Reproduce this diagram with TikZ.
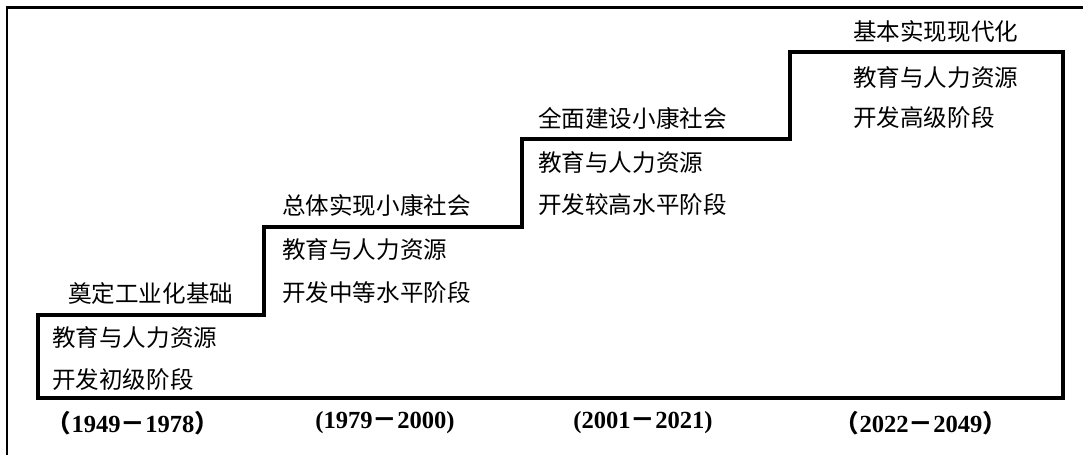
\documentclass[tikz,border=0pt]{standalone}
\usepackage{fontspec}
\setmainfont{Liberation Serif}
\newfontfamily\cjk{Noto Sans CJK SC}

\begin{document}
\begin{tikzpicture}[x=0.02cm,y=0.02cm,
		stage/.style={anchor=west,inner sep=0pt,font=\cjk\fontsize{13.4pt}{16pt}\selectfont},
		period/.style={inner sep=0pt,font=\bfseries\fontsize{14pt}{16pt}\selectfont}]
		\useasboundingbox (0,0) rectangle (1083,455);
		\draw[line width=1.7pt] (7,0) -- (7,447) -- (1083,447);
		\coordinate (A) at (38,57);
		\coordinate (B) at (1063,57);
		\draw[line width=2.8pt,line join=miter] (A) -- (38,140) -- (264,140) -- (264,228) -- (522,228) -- (522,316) -- (790,316) -- (790,403) -- (1063,403) -- (B) -- cycle;
		\node[stage] (g1) at (68,161) {奠定工业化基础};
		\node[stage] (a1) at (52,117) {教育与人力资源};
		\node[stage] (b1) at (52,75) {开发初级阶段};
		\node[stage] (g2) at (282,250) {总体实现小康社会};
		\node[stage] (a2) at (282,205) {教育与人力资源};
		\node[stage] (b2) at (282,162) {开发中等水平阶段};
		\node[stage] (g3) at (538,337) {全面建设小康社会};
		\node[stage] (a3) at (538,292) {教育与人力资源};
		\node[stage] (b3) at (538,250) {开发较高水平阶段};
		\node[stage] (g4) at (853,423) {基本实现现代化};
		\node[stage] (a4) at (853,377) {教育与人力资源};
		\node[stage] (b4) at (853,337) {开发高级阶段};
		\node[period] (p1) at (133,32) {{\cjk （}1949{\cjk －}1978{\cjk ）}};
		\node[period] (p2) at (385,32) {(1979{\cjk －}2000)};
		\node[period] (p3) at (643,32) {(2001{\cjk －}2021)};
		\node[period] (p4) at (921,32) {{\cjk （}2022{\cjk －}2049{\cjk ）}};
	\end{tikzpicture}
\end{document}
